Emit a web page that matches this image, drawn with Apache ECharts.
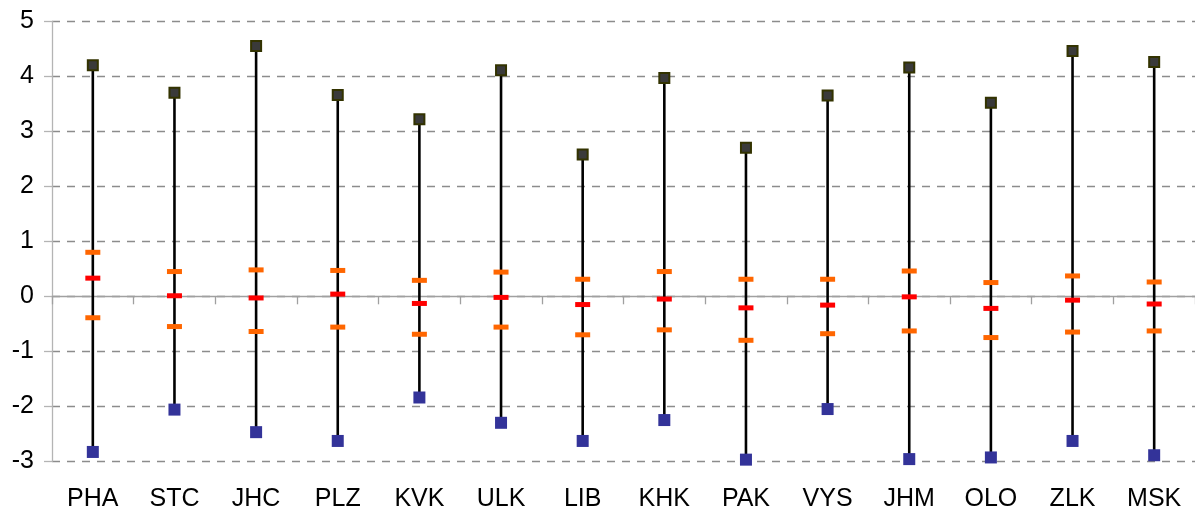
<!DOCTYPE html>
<html>
<head>
<meta charset="utf-8">
<script src="https://cdn.jsdelivr.net/npm/echarts@6/dist/echarts.min.js"></script>
<style>
html,body{margin:0;padding:0;background:#fff;}
#main{width:1195px;height:512px;}
</style>
</head>
<body>
<div id="main"></div>
<script>
var categories = ['PHA','STC','JHC','PLZ','KVK','ULK','LIB','KHK','PAK','VYS','JHM','OLO','ZLK','MSK'];
var highValues = [4.20, 3.70, 4.55, 3.66, 3.22, 4.11, 2.58, 3.97, 2.70, 3.65, 4.16, 3.52, 4.46, 4.26];
var lowValues = [-2.83, -2.06, -2.47, -2.63, -1.84, -2.30, -2.63, -2.25, -2.97, -2.05, -2.96, -2.93, -2.63, -2.89];
var upperValues = [0.80, 0.45, 0.48, 0.47, 0.29, 0.44, 0.31, 0.45, 0.31, 0.31, 0.46, 0.25, 0.37, 0.26];
var medianValues = [0.33, 0.01, -0.03, 0.04, -0.13, -0.02, -0.15, -0.05, -0.21, -0.16, -0.01, -0.22, -0.07, -0.14];
var lowerValues = [-0.39, -0.55, -0.64, -0.56, -0.69, -0.56, -0.70, -0.61, -0.80, -0.68, -0.63, -0.75, -0.65, -0.63];
var yTicks = {min: -3, max: 5, interval: 1};

var rangeData = categories.map(function (c, i) { return [i, lowValues[i], highValues[i]]; });
function pts(arr) { return arr.map(function (v, i) { return [i, v]; }); }

var chart = echarts.init(document.getElementById('main'), null, {renderer: 'canvas'});
chart.setOption({
  animation: false,
  backgroundColor: '#ffffff',
  grid: {left: 52, right: 0, top: 21.3, bottom: 50.7, containLabel: false},
  xAxis: [{
    type: 'category',
    data: categories,
    boundaryGap: true,
    position: 'bottom',
    axisLine: {show: false, onZero: false},
    axisTick: {show: false},
    axisLabel: {fontFamily: 'Liberation Sans, Arial', fontSize: 25, color: '#000', margin: 25},
    splitLine: {show: false}
  }, {
    type: 'category',
    data: categories,
    boundaryGap: true,
    position: 'bottom',
    axisLine: {show: true, onZero: true, lineStyle: {color: '#a0a0a0', width: 1.3}},
    axisTick: {show: true, inside: false, length: 8, alignWithLabel: false, lineStyle: {color: '#a0a0a0', width: 1.3}},
    axisLabel: {show: false},
    splitLine: {show: false}
  }],
  yAxis: {
    type: 'value',
    min: yTicks.min,
    max: yTicks.max,
    interval: yTicks.interval,
    axisLine: {show: true, lineStyle: {color: '#b4b4b4', width: 1.3}},
    axisTick: {show: true, length: 8, lineStyle: {color: '#b4b4b4', width: 1.3}},
    axisLabel: {fontFamily: 'Liberation Sans, Arial', fontSize: 25, color: '#000', margin: 18},
    splitLine: {show: true, lineStyle: {color: '#8c8c8c', width: 1.4, type: [8, 7]}}
  },
  series: [{
    type: 'custom',
    xAxisIndex: 0,
    data: rangeData,
    renderItem: function (params, api) {
      var lo = api.coord([api.value(0), api.value(1)]);
      var hi = api.coord([api.value(0), api.value(2)]);
      return {
        type: 'line',
        shape: {x1: lo[0], y1: lo[1], x2: hi[0], y2: hi[1]},
        style: {stroke: '#000', lineWidth: 2.6}
      };
    },
    z: 2
  }, {
    type: 'scatter', xAxisIndex: 0, data: pts(upperValues),
    symbol: 'rect', symbolSize: [15, 5],
    itemStyle: {color: '#ff6600', opacity: 1}, z: 3
  }, {
    type: 'scatter', xAxisIndex: 0, data: pts(lowerValues),
    symbol: 'rect', symbolSize: [15, 5],
    itemStyle: {color: '#ff6600', opacity: 1}, z: 3
  }, {
    type: 'scatter', xAxisIndex: 0, data: pts(medianValues),
    symbol: 'rect', symbolSize: [15, 5],
    itemStyle: {color: '#ff0000', opacity: 1}, z: 3
  }, {
    type: 'scatter', xAxisIndex: 0, data: pts(highValues),
    symbol: 'rect', symbolSize: 10,
    itemStyle: {color: '#3a3a3a', borderColor: '#333300', borderWidth: 2, opacity: 1}, z: 4
  }, {
    type: 'scatter', xAxisIndex: 0, data: pts(lowValues),
    symbol: 'rect', symbolSize: 12,
    itemStyle: {color: '#333399', opacity: 1}, z: 4
  }]
});
</script>
</body>
</html>
